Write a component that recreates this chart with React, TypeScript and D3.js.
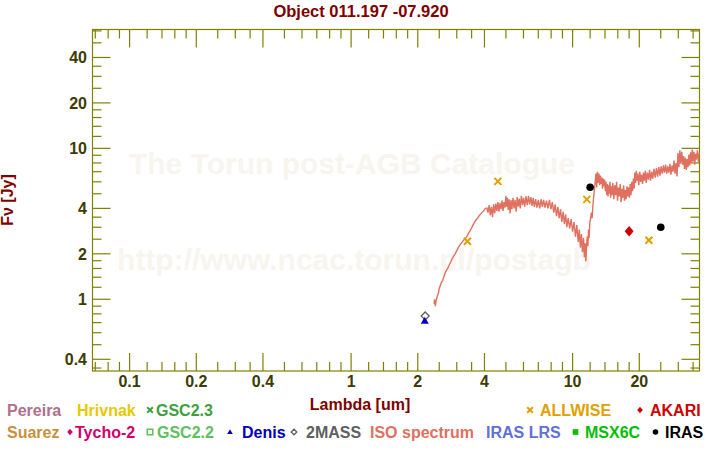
import React from "react";
import * as d3 from "d3";

const TITLE = "Object 011.197 -07.920";
const X_TITLE = "Lambda [um]";
const Y_TITLE = "Fν [Jy]";
const WATERMARK_1 = "The Torun post-AGB Catalogue";
const WATERMARK_2 = "http://www.ncac.torun.pl/postagb";

const X_TICKS = [0.1, 0.2, 0.4, 1, 2, 4, 10, 20];
const X_TICK_LABELS = ["0.1", "0.2", "0.4", "1", "2", "4", "10", "20"];
const X_MINOR = [0.07, 0.08, 0.09, 0.12, 0.14, 0.16, 0.18, 0.25, 0.3, 0.35, 0.5, 0.6, 0.7, 0.8, 0.9, 1.2, 1.4, 1.6, 1.8, 2.5, 3, 3.5, 5, 6, 7, 8, 9, 12, 14, 16, 18, 25, 30, 35];
const Y_TICKS = [0.4, 1, 2, 4, 10, 20, 40];
const Y_TICK_LABELS = ["0.4", "1", "2", "4", "10", "20", "40"];
const Y_MINOR = [0.35, 0.5, 0.6, 0.7, 0.8, 0.9, 1.2, 1.4, 1.6, 1.8, 2.5, 3, 3.5, 5, 6, 7, 8, 9, 12, 14, 16, 18, 25, 30, 35, 50, 60];

// ISO spectrum: [wavelength um, flux Jy]
const ISO_SPECTRUM: [number, number][] = [
  [2.37, 0.93], [2.38, 1.0], [2.4, 0.9], [2.42, 0.98], [2.45, 1.05], [2.48, 1.1], [2.5, 1.18], [2.53, 1.24],
  [2.56, 1.3], [2.59, 1.33], [2.62, 1.4], [2.66, 1.5], [2.7, 1.56], [2.74, 1.62], [2.78, 1.7], [2.82, 1.77],
  [2.86, 1.86], [2.9, 1.92], [2.95, 2.0], [3.0, 2.1], [3.06, 2.22], [3.12, 2.32], [3.18, 2.4], [3.25, 2.5],
  [3.32, 2.58], [3.4, 2.75], [3.48, 2.92], [3.56, 3.12], [3.64, 3.3], [3.72, 3.45], [3.8, 3.6], [3.88, 3.72],
  [3.96, 3.85], [4.04, 4.0], [4.1, 4.02],
  [4.15, 3.75], [4.2, 4.2], [4.25, 3.6], [4.3, 4.1], [4.35, 3.5], [4.4, 4.25], [4.45, 3.7], [4.5, 4.3],
  [4.55, 3.85], [4.6, 4.4], [4.65, 3.8], [4.7, 4.35], [4.75, 3.95], [4.8, 4.5], [4.85, 3.85], [4.9, 4.4],
  [4.95, 4.05], [5.0, 4.85], [5.04, 4.1], [5.08, 4.7], [5.12, 3.9], [5.17, 4.6], [5.22, 3.7], [5.27, 4.55],
  [5.32, 3.95], [5.38, 4.7], [5.44, 4.0], [5.5, 4.55], [5.56, 3.8], [5.62, 4.75], [5.68, 4.1], [5.74, 4.65],
  [5.8, 4.0], [5.87, 4.85], [5.94, 4.2], [6.01, 4.7], [6.08, 4.1], [6.16, 4.8], [6.24, 4.2], [6.32, 4.85],
  [6.4, 4.25], [6.48, 4.75], [6.56, 4.15], [6.64, 4.7], [6.72, 4.1], [6.81, 4.6], [6.9, 4.05], [7.0, 4.55],
  [7.1, 4.0], [7.2, 4.6], [7.3, 4.1], [7.4, 4.55], [7.5, 4.05], [7.62, 4.5], [7.74, 4.0], [7.86, 4.55],
  [7.98, 3.95], [8.1, 4.4], [8.22, 3.75], [8.34, 4.25], [8.46, 3.55], [8.58, 4.1], [8.7, 3.45], [8.82, 3.95],
  [8.94, 3.25], [9.06, 3.8], [9.18, 3.15], [9.3, 3.65], [9.42, 3.0],
  [9.55, 3.45], [9.7, 2.95], [9.85, 3.4], [10.0, 2.8], [10.15, 3.25], [10.3, 2.6], [10.45, 3.1], [10.6, 2.4],
  [10.72, 2.9], [10.84, 2.2], [10.96, 2.7], [11.08, 2.05], [11.2, 2.55], [11.3, 1.9], [11.4, 2.35], [11.48, 1.78],
  [11.56, 2.25], [11.64, 2.6], [11.72, 2.25], [11.8, 2.9], [11.88, 2.55], [11.96, 3.25], [12.05, 3.4], [12.15, 3.75],
  [12.25, 3.45], [12.35, 4.2], [12.45, 4.8], [12.55, 5.4], [12.65, 6.0],
  [12.75, 6.8], [12.85, 5.5], [12.95, 7.0], [13.05, 5.9], [13.15, 6.8], [13.25, 5.7], [13.35, 6.6], [13.45, 5.8],
  [13.55, 6.4], [13.65, 5.4], [13.75, 6.3], [13.85, 5.6], [13.95, 6.2], [14.05, 5.2], [14.15, 6.0], [14.25, 4.9],
  [14.35, 5.8], [14.45, 4.8], [14.55, 5.7], [14.65, 5.0], [14.75, 6.0], [14.85, 4.7], [14.95, 5.6], [15.05, 4.9],
  [15.2, 5.9], [15.35, 4.6], [15.5, 5.7], [15.65, 4.9], [15.8, 6.0], [15.95, 4.5], [16.1, 5.5], [16.25, 4.8],
  [16.4, 5.8], [16.55, 4.4], [16.7, 5.4], [16.85, 4.7], [17.0, 5.7], [17.15, 4.5], [17.3, 5.3], [17.45, 4.6],
  [17.6, 5.6], [17.75, 4.8], [17.9, 5.5], [18.05, 4.7], [18.2, 5.8], [18.35, 4.9], [18.5, 6.0], [18.65, 5.2],
  [18.8, 6.3], [18.95, 5.4], [19.1, 6.9], [19.25, 5.9], [19.4, 7.1], [19.55, 6.1], [19.7, 6.8], [19.9, 5.7],
  [20.1, 7.0], [20.3, 6.0], [20.5, 6.7], [20.7, 5.8], [20.9, 6.9], [21.1, 6.1], [21.3, 7.1], [21.5, 5.9],
  [21.75, 6.9], [22.0, 6.2], [22.25, 7.2], [22.5, 6.1], [22.75, 7.0], [23.0, 6.3], [23.3, 7.3], [23.6, 6.4],
  [23.9, 7.4], [24.2, 6.5], [24.5, 7.5], [24.8, 6.6], [25.1, 7.6], [25.4, 6.8], [25.7, 7.7], [26.0, 6.9],
  [26.3, 7.8], [26.6, 6.8], [26.9, 7.6], [27.2, 6.9], [27.5, 7.9], [27.8, 6.7], [28.1, 7.7], [28.4, 7.0],
  [28.7, 8.3], [29.0, 6.8], [29.3, 8.0], [29.6, 6.5], [29.9, 9.3], [30.2, 7.5], [30.5, 9.7], [30.8, 7.9],
  [31.1, 9.5], [31.4, 7.8], [31.7, 8.9], [32.0, 7.3], [32.3, 8.7], [32.6, 7.2], [32.9, 8.5], [33.2, 7.5],
  [33.5, 9.1], [33.8, 7.7], [34.1, 9.4], [34.4, 8.0], [34.7, 9.8], [35.0, 8.2], [35.3, 9.5], [35.6, 7.8],
  [35.9, 9.2], [36.2, 8.4], [36.6, 9.7], [37.0, 8.1], [37.4, 9.4], [37.7, 8.6],
];

const ALLWISE_WAVE = [3.35, 4.6, 11.6, 22.1];
const ALLWISE_FLUX = [2.42, 6.04, 4.59, 2.46];
const IRAS_WAVE = [12, 25];
const IRAS_FLUX = [5.52, 3.0];
const AKARI_WAVE = [18];
const AKARI_FLUX = [2.82];
const TWOMASS_WAVE = [2.16];
const TWOMASS_FLUX = [0.775];
const DENIS_WAVE = [2.15];
const DENIS_FLUX = [0.72];

type Sym = "none" | "cross" | "diamond" | "square" | "triangle" | "odiamond" | "fsquare" | "circle";
const LEGEND_NAMES = ["Pereira", "Hrivnak", "GSC2.3", "ALLWISE", "AKARI", "Suarez", "Tycho-2", "GSC2.2", "Denis", "2MASS", "ISO spectrum", "IRAS LRS", "MSX6C", "IRAS"];
const LEGEND_COLORS = ["#b0708c", "#e8c800", "#40a040", "#e0a000", "#d00000", "#c8903c", "#d0006c", "#60c060", "#0000c0", "#606060", "#e07060", "#6070d8", "#00c000", "#000000"];
const LEGEND_SYMS: Sym[] = ["none", "none", "cross", "cross", "diamond", "none", "diamond", "square", "triangle", "odiamond", "none", "none", "fsquare", "circle"];
const LEGEND_ROW = [0, 0, 0, 0, 0, 1, 1, 1, 1, 1, 1, 1, 1, 1];
const LEGEND_TEXT_X = [7, 77, 156, 540, 650, 7, 75, 157, 242, 306, 370, 486, 585, 665];
const LEGEND_SYM_X = [0, 0, 150, 530, 640, 0, 70, 150, 230, 294, 0, 0, 575.5, 655.5];

const W = 720;
const H = 450;
const PL = 92.5, PR = 699.5, PT = 29.5, PB = 371;
const AXIS = "#808000";
const TICKTXT = "#3c3c00";
const MAROON = "#800000";
const FONT = "'Liberation Sans', Arial, Helvetica, sans-serif";

function Marker({ sym, x, y, color, size }: { sym: Sym; x: number; y: number; color: string; size: number }) {
  const s = size;
  switch (sym) {
    case "cross":
      return (
        <g stroke={color} strokeWidth={2}>
          <line x1={x - s} y1={y - s} x2={x + s} y2={y + s} />
          <line x1={x - s} y1={y + s} x2={x + s} y2={y - s} />
        </g>
      );
    case "diamond":
      return <path d={`M${x},${y - s * 1.15}L${x + s},${y}L${x},${y + s * 1.15}L${x - s},${y}Z`} fill={color} />;
    case "odiamond":
      return <path d={`M${x},${y - s}L${x + s},${y}L${x},${y + s}L${x - s},${y}Z`} fill="white" stroke={color} strokeWidth={1.3} />;
    case "square":
      return <rect x={x - s} y={y - s} width={2 * s} height={2 * s} fill="white" stroke={color} strokeWidth={1.5} />;
    case "fsquare":
      return <rect x={x - s} y={y - s} width={2 * s} height={2 * s} fill={color} />;
    case "triangle":
      return <path d={`M${x},${y - s}L${x + s},${y + s * 0.75}L${x - s},${y + s * 0.75}Z`} fill={color} />;
    case "circle":
      return <circle cx={x} cy={y} r={s} fill={color} />;
    default:
      return null;
  }
}

export default function App() {
  const x = d3.scaleLog().domain([0.068, 37.4]).range([PL, PR]);
  const y = d3.scaleLog().domain([0.3346, 61.3]).range([PB, PT]);

  const line = d3
    .line<[number, number]>()
    .x((d) => x(d[0]))
    .y((d) => y(d[1]));

  const MAJ = 18;
  const MIN = 9;

  return (
    <div style={{ position: "fixed", left: 0, top: 0, width: W, height: H, background: "white" }}>
      <svg width={W} height={H} style={{ display: "block", fontFamily: FONT }}>
        <rect x={0} y={0} width={W} height={H} fill="white" />
        <defs>
          <clipPath id="plotclip">
            <rect x={PL} y={PT} width={PR - PL} height={PB - PT} />
          </clipPath>
        </defs>

        {/* watermark */}
        <g fill="#f8f5ef" fontWeight="bold" fontSize={30} textAnchor="middle">
          <text x={352} y={174}>{WATERMARK_1}</text>
          <text x={354} y={270}>{WATERMARK_2}</text>
        </g>

        {/* title */}
        <text x={361} y={17} textAnchor="middle" fontSize={16.5} fontWeight="bold" fill={MAROON}>
          {TITLE}
        </text>

        {/* axes frame */}
        <rect x={PL} y={PT} width={PR - PL} height={PB - PT} fill="none" stroke={AXIS} strokeWidth={1.2} />

        {/* ticks */}
        <g stroke={AXIS} strokeWidth={1.2}>
          {X_TICKS.map((t) => (
            <g key={"xt" + t}>
              <line x1={x(t)} x2={x(t)} y1={PB} y2={PB - MAJ} />
              <line x1={x(t)} x2={x(t)} y1={PT} y2={PT + MAJ} />
            </g>
          ))}
          {X_MINOR.map((t) => (
            <g key={"xm" + t}>
              <line x1={x(t)} x2={x(t)} y1={PB} y2={PB - MIN} />
              <line x1={x(t)} x2={x(t)} y1={PT} y2={PT + MIN} />
            </g>
          ))}
          {Y_TICKS.map((t) => (
            <g key={"yt" + t}>
              <line x1={PL} x2={PL + MAJ} y1={y(t)} y2={y(t)} />
              <line x1={PR} x2={PR - MAJ} y1={y(t)} y2={y(t)} />
            </g>
          ))}
          {Y_MINOR.map((t) => (
            <g key={"ym" + t}>
              <line x1={PL} x2={PL + MIN} y1={y(t)} y2={y(t)} />
              <line x1={PR} x2={PR - MIN} y1={y(t)} y2={y(t)} />
            </g>
          ))}
        </g>

        {/* tick labels */}
        <g fontSize={16} fontWeight="bold" fill={TICKTXT}>
          {X_TICKS.map((t, i) => (
            <text key={"xl" + t} x={x(t)} y={387} textAnchor="middle">
              {X_TICK_LABELS[i]}
            </text>
          ))}
          {Y_TICKS.map((t, i) => (
            <text key={"yl" + t} x={87} y={y(t) + 6} textAnchor="end">
              {Y_TICK_LABELS[i]}
            </text>
          ))}
        </g>

        {/* axis titles */}
        <text x={360} y={410} textAnchor="middle" fontSize={16} fontWeight="bold" fill={MAROON}>
          {X_TITLE}
        </text>
        <text transform={`translate(13,200) rotate(-90)`} textAnchor="middle" fontSize={16} fontWeight="bold" fill={MAROON}>
          {Y_TITLE}
        </text>

        {/* data */}
        <g clipPath="url(#plotclip)">
          <path d={line(ISO_SPECTRUM) || ""} fill="none" stroke="#e07060" strokeWidth={1.4} />
          {TWOMASS_WAVE.map((w, i) => (
            <Marker key={"tm" + i} sym="odiamond" x={x(w)} y={y(TWOMASS_FLUX[i])} color="#606060" size={4} />
          ))}
          {DENIS_WAVE.map((w, i) => (
            <Marker key={"de" + i} sym="triangle" x={x(w)} y={y(DENIS_FLUX[i])} color="#0000c0" size={4} />
          ))}
          {ALLWISE_WAVE.map((w, i) => (
            <Marker key={"aw" + i} sym="cross" x={x(w)} y={y(ALLWISE_FLUX[i])} color="#e0a000" size={3.5} />
          ))}
          {AKARI_WAVE.map((w, i) => (
            <Marker key={"ak" + i} sym="diamond" x={x(w)} y={y(AKARI_FLUX[i])} color="#d00000" size={4.5} />
          ))}
          {IRAS_WAVE.map((w, i) => (
            <Marker key={"ir" + i} sym="circle" x={x(w)} y={y(IRAS_FLUX[i])} color="#000000" size={3.8} />
          ))}
        </g>

        {/* legend */}
        <g fontSize={16} fontWeight="bold">
          {LEGEND_NAMES.map((n, i) => {
            const by = LEGEND_ROW[i] === 0 ? 416 : 438;
            return (
              <g key={"lg" + n}>
                <Marker sym={LEGEND_SYMS[i]} x={LEGEND_SYM_X[i]} y={by - 6} color={LEGEND_COLORS[i]} size={2.8} />
                <text x={LEGEND_TEXT_X[i]} y={by} fill={LEGEND_COLORS[i]}>
                  {n}
                </text>
              </g>
            );
          })}
        </g>
      </svg>
    </div>
  );
}
